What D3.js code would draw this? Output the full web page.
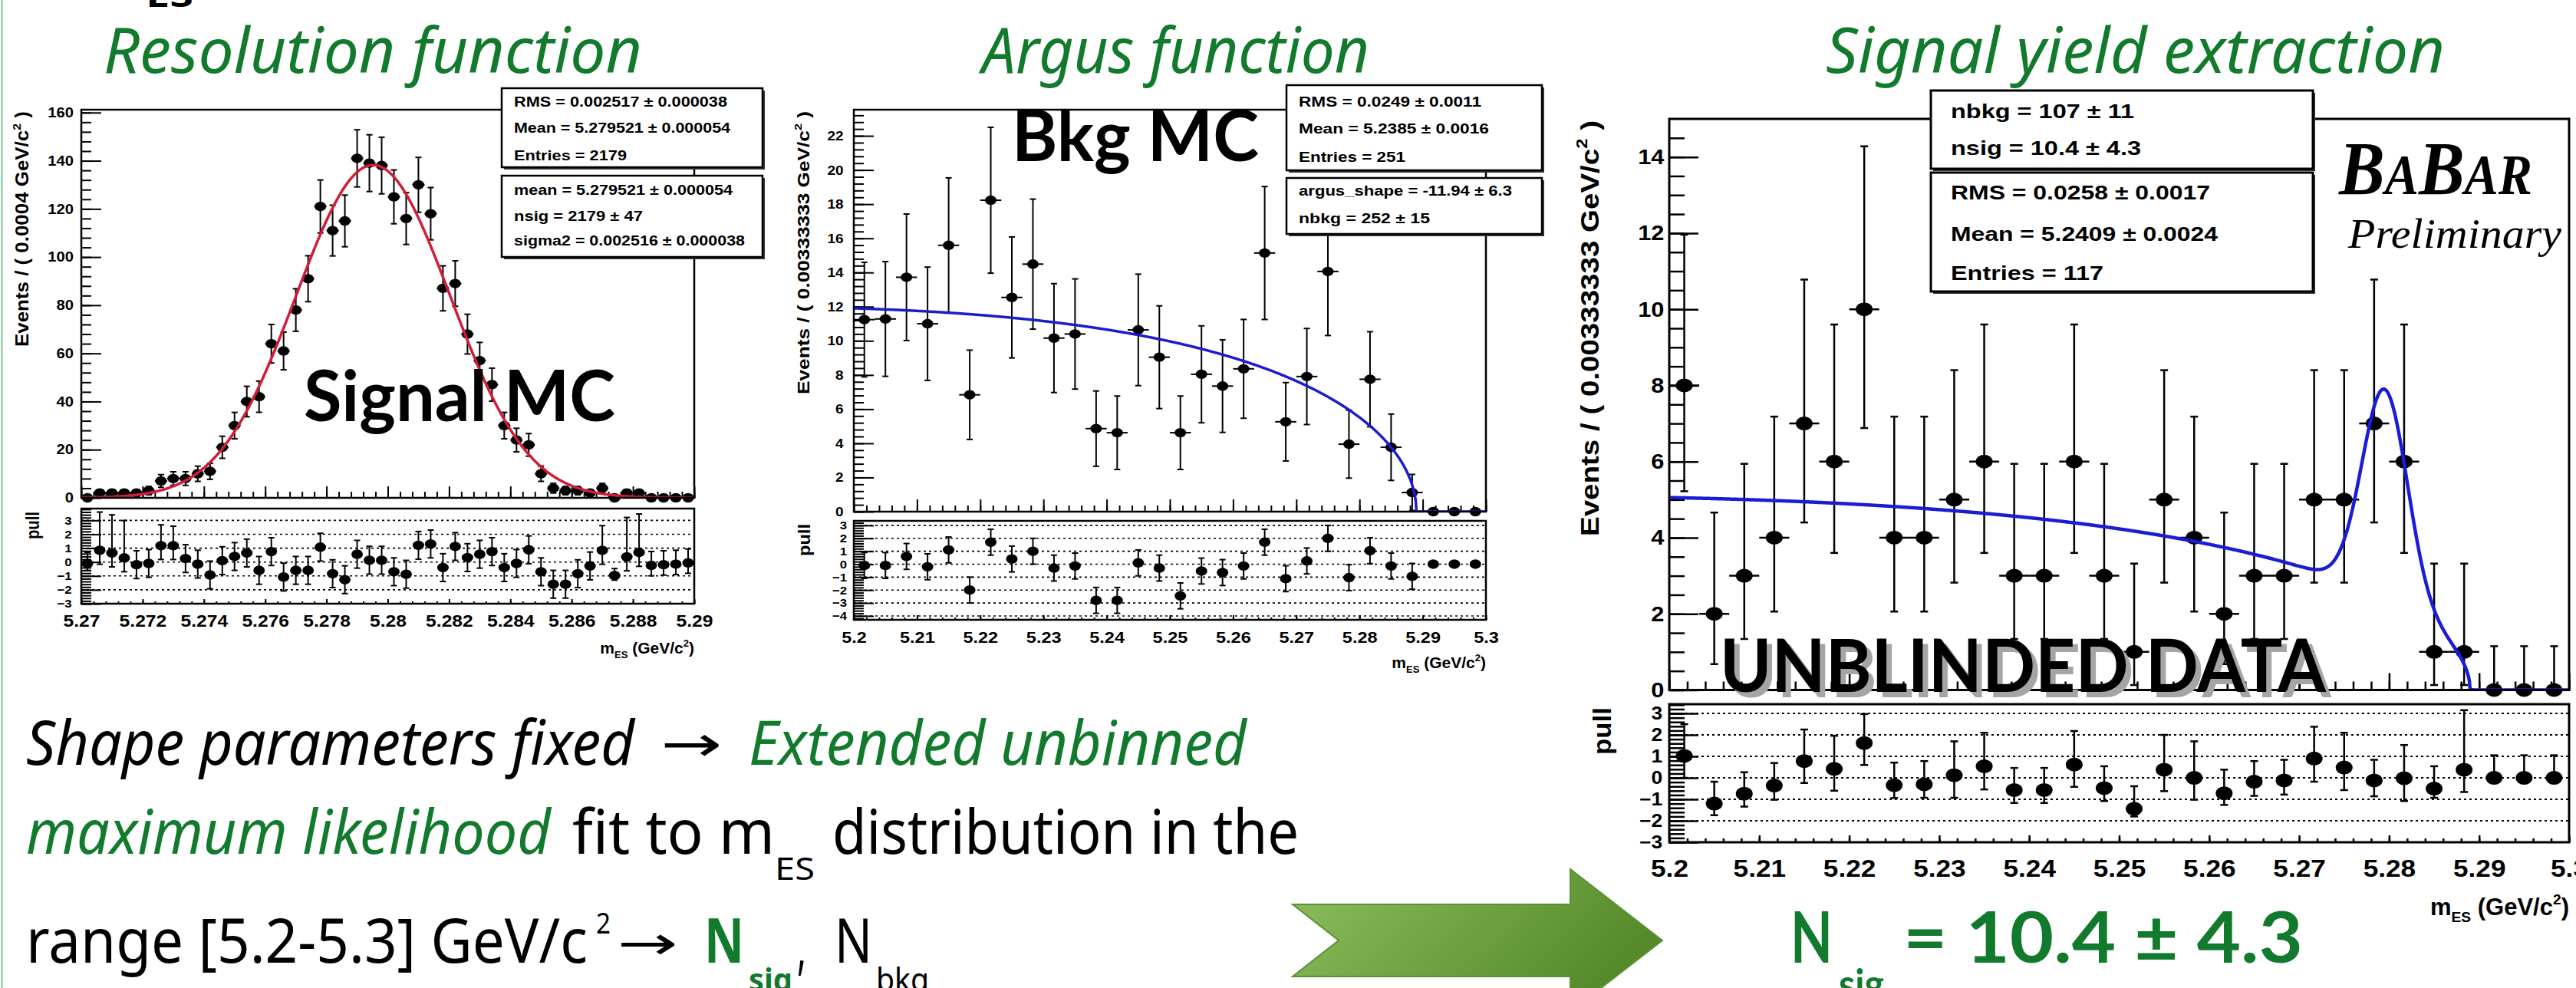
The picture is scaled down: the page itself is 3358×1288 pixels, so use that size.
<!DOCTYPE html>
<html>
<head>
<meta charset="utf-8">
<script src="https://cdn.jsdelivr.net/npm/d3@7"></script>
<style>
  html, body { margin: 0; padding: 0; background: #fff; overflow: hidden; }
</style>
</head>
<body>
<svg id="slide" width="3358" height="1288"></svg>
<script>
// ---------------------------------------------------------------
// Data: m_ES histograms, fit pulls and fit results
// ---------------------------------------------------------------

// Signal MC, 50 bins of 0.0004 GeV/c^2 in [5.27, 5.29]
const sigMcRange = [5.27, 5.29];
const sigMcCounts = [0, 2, 2, 2, 2, 3, 7, 8, 8, 10, 11, 21, 30, 40, 42, 64, 61, 78, 91, 121,
  111, 115, 141, 139, 138, 125, 116, 130, 118, 87, 89, 68, 57, 47, 30, 24, 22, 10, 4, 3,
  3, 2, 4, 0, 2, 2, 0, 0, 0, 0];
const sigMcPull = [-0.1, 0.84, 0.65, 0.3, -0.19, -0.1, 1.18, 1.18, 0.25, -0.15, -0.93, 0.1, 0.4, 0.65,
  -0.6, 0.75, -1.08, -0.6, -0.6, 1.07, -0.84, -1.27, 0.56, 0.13, 0.13, -0.7, -0.88, 1.2, 1.3, -0.4,
  1.12, 0.32, 0.56, 0.75, -0.4, -0.1, 0.88, -0.7, -1.6, -1.6, -0.84, -0.28, 0.84, -0.97, 0.37,
  0.69, -0.24, -0.19, -0.15, -0.06];
const sigMcPullUp = [0.8, 2.76, 2.75, 2.69, 1, 1, 1.5, 1.4, 1, 1, 1, 1, 1, 1, 1, 1, 1, 1, 1, 1,
  1, 1, 1, 1, 1, 1, 1, 1, 1, 1, 1, 1, 1, 1, 1, 1, 1, 1, 1, 1, 1, 1, 1.78, 0.5, 2.84, 2.77, 1, 1, 1, 1];
const sigMcPullDn = [0.5, 1, 1, 1, 1, 1, 1, 1, 1, 1, 1, 1, 1, 1, 1, 1, 1, 1, 1, 1,
  1, 1, 1, 1, 1, 1, 1, 1, 1, 1, 1, 1, 1, 1, 1, 1, 1, 1, 1, 1, 1, 1, 1, 0.33, 1, 1, 0.75, 0.75, 0.75, 0.75];

// Background MC (weighted), 30 bins in [5.2, 5.3]
const bkgMcRange = [5.2, 5.3];
const bkgMcValues = [11.24, 11.28, 13.72, 11.0, 15.59, 6.84, 18.23, 12.54, 14.49, 10.16, 10.40, 4.86,
  4.62, 10.64, 9.04, 4.62, 8.04, 7.35, 8.36, 15.14, 5.26, 7.91, 14.06, 3.95, 7.75, 3.77, 1.12, 0, 0, 0];
const bkgMcPull = [-0.1, -0.1, 0.6, -0.2, 1.1, -2.0, 1.7, 0.4, 1.0, -0.3, -0.14, -2.8, -2.8, 0.1, -0.3,
  -2.45, -0.53, -0.65, -0.14, 1.7, -1.12, 0.25, 2.0, -1.04, 1.04, -0.14, -0.94, 0, 0, 0];
const bkgMcPullUp = [1, 1, 1, 1, 1, 1, 1, 1, 1, 1, 1, 1, 1, 1, 1, 1, 1, 1, 1, 1, 1, 1, 1, 1, 1, 1, 1, 0, 0, 0];
const bkgMcPullDn = bkgMcPullUp;

// Unblinded data, 30 bins in [5.2, 5.3]
const dataRange = [5.2, 5.3];
const dataCounts = [8, 2, 3, 4, 7, 6, 10, 4, 4, 5, 6, 3, 3, 6, 3, 1, 5, 4, 2, 3, 3, 5, 5, 7, 6, 1, 1, 0, 0, 0];
const dataPull = [1.02, -1.2, -0.74, -0.36, 0.78, 0.42, 1.62, -0.34, -0.3, 0.12, 0.54, -0.57, -0.57, 0.62,
  -0.48, -1.44, 0.38, 0.0, -0.72, -0.18, -0.12, 0.9, 0.48, -0.12, -0.02, -0.5, 0.38, 0, 0, 0];
const dataPullUp = [1.48, 1.02, 1.0, 1.05, 1.47, 1.54, 1.35, 1.05, 1.08, 1.58, 1.56, 1.03, 1.03, 1.56, 1.02,
  1.05, 1.62, 1.7, 1.1, 0.96, 0.96, 1.48, 1.62, 0.96, 1.55, 1.04, 2.77, 1.05, 1.05, 1.05];
const dataPullDn = [1.02, 0.54, 0.6, 0.66, 1.02, 1.02, 1.02, 0.6, 0.63, 1.05, 1.08, 0.6, 0.6, 1.04, 0.6,
  0.36, 1.0, 1.02, 0.54, 0.66, 0.66, 1.08, 1.05, 0.74, 1.06, 0.43, 1.04, 0, 0, 0];

// 68% Poisson intervals drawn on the data points, by bin content
const poissonBand = {
  0: [0, 1.15], 1: [0.13, 3.32], 2: [0.68, 4.66], 3: [1.34, 5.94], 4: [2.06, 7.18],
  5: [2.82, 8.40], 6: [3.60, 9.60], 7: [4.40, 10.78], 8: [5.22, 11.96], 10: [6.88, 14.28]
};

// Fit results
const sigMean = 5.279521;
const sigSigma = 0.002516;
const nsigMc = 2179;
const argusShape = -11.94;
const argusEndpoint = 5.289;
const nbkgMc = 252;
const nbkgData = 107;
const nsigData = 10.4;

// Statistics boxes
const statSigA = ["RMS = 0.002517 \u00b1 0.000038", "Mean = 5.279521 \u00b1 0.000054", "Entries = 2179"];
const statSigB = ["mean = 5.279521 \u00b1 0.000054", "nsig = 2179 \u00b1 47", "sigma2 = 0.002516 \u00b1 0.000038"];
const statBkgA = ["RMS = 0.0249 \u00b1 0.0011", "Mean = 5.2385 \u00b1 0.0016", "Entries = 251"];
const statBkgB = ["argus_shape = -11.94 \u00b1 6.3", "nbkg = 252 \u00b1 15"];
const statDataA = ["nbkg = 107 \u00b1 11", "nsig = 10.4 \u00b1 4.3"];
const statDataB = ["RMS = 0.0258 \u00b1 0.0017", "Mean = 5.2409 \u00b1 0.0024", "Entries = 117"];

// ---------------------------------------------------------------
// Fit model shapes
// ---------------------------------------------------------------
function argusPdf(m) {
  if (m >= argusEndpoint) return 0;
  const r = 1 - (m / argusEndpoint) * (m / argusEndpoint);
  return m * Math.sqrt(r) * Math.exp(argusShape * r);
}
function gaussPdf(m) {
  const z = (m - sigMean) / sigSigma;
  return Math.exp(-0.5 * z * z) / (Math.sqrt(2 * Math.PI) * sigSigma);
}
function integrate(f, a, b) {
  const n = 5000, h = (b - a) / n;
  let s = 0;
  for (let i = 0; i < n; i++) s += f(a + (i + 0.5) * h);
  return s * h;
}
const argusNorm = integrate(argusPdf, 5.2, 5.3);
const gaussNormWide = integrate(gaussPdf, 5.2, 5.3);
const gaussNormNarrow = integrate(gaussPdf, 5.27, 5.29);

// ---------------------------------------------------------------
// Drawing helpers
// ---------------------------------------------------------------
const svg = d3.select("#slide");
svg.append("rect").attr("width", 3358).attr("height", 1288).attr("fill", "#fff");
const defs = svg.append("defs");

const GREEN = "#127a2c";
const ROOTFONT = "'Liberation Sans', Arial, sans-serif";

function label(g, s, o) {
  const t = g.append("text")
    .attr("x", o.x).attr("y", o.y)
    .attr("font-family", o.family || ROOTFONT)
    .attr("font-size", o.size)
    .attr("font-weight", o.weight || "normal")
    .attr("font-style", o.style || "normal")
    .attr("fill", o.fill || "#000")
    .attr("text-anchor", o.anchor || "start")
    .text(s);
  if (o.w) t.attr("textLength", o.w).attr("lengthAdjust", "spacingAndGlyphs");
  if (o.baseline) t.attr("dominant-baseline", o.baseline);
  return t;
}

function binCenters(range, n) {
  const w = (range[1] - range[0]) / n;
  return d3.range(n).map(i => range[0] + (i + 0.5) * w);
}

function stepValues(lo, hi, step) {
  const n = Math.round((hi - lo) / step);
  return d3.range(n + 1).map(i => +(lo + i * step).toFixed(6));
}

function drawRooPlot(cfg) {
  const g = svg.append("g");
  const x = d3.scaleLinear().domain(cfg.xDomain).range([cfg.left, cfg.right]);
  const y = d3.scaleLinear().domain(cfg.yDomain).range([cfg.bottom, cfg.top]);
  const yp = d3.scaleLinear().domain(cfg.pullDomain).range([cfg.pullBottom, cfg.pullTop]);
  const binW = (cfg.xDomain[1] - cfg.xDomain[0]) / cfg.values.length;
  const centers = binCenters(cfg.xDomain, cfg.values.length);

  const clip = defs.append("clipPath").attr("id", cfg.id + "-clip");
  clip.append("rect").attr("x", cfg.left).attr("y", cfg.top)
    .attr("width", cfg.right - cfg.left).attr("height", cfg.bottom - cfg.top);

  // pull reference lines
  g.append("g").selectAll("line").data(cfg.pullGrid).join("line")
    .attr("x1", cfg.left).attr("x2", cfg.right)
    .attr("y1", d => yp(d)).attr("y2", d => yp(d))
    .attr("stroke", "#000").attr("stroke-width", cfg.gridWidth)
    .attr("stroke-dasharray", cfg.gridDash);

  // axes (ROOT style: ticks pointing inside the frame)
  const styleAxis = (sel, size, sx) => {
    sel.select(".domain").remove();
    sel.attr("font-family", null).attr("font-size", null);
    sel.selectAll("line").attr("stroke", "#000").attr("stroke-width", cfg.tickWidth);
    sel.selectAll("text")
      .attr("font-family", ROOTFONT).attr("font-size", size)
      .attr("font-weight", "bold").attr("fill", "#000")
      .attr("transform", `scale(${sx},1)`);
  };
  const noLabel = () => "";
  const fmt = d => d3.format("~g")(+d.toFixed(4));

  // main y axis
  g.append("g").attr("transform", `translate(${cfg.left},0)`)
    .call(d3.axisLeft(y).tickValues(cfg.yMinor).tickSize(-cfg.yMinorLen).tickSizeOuter(0).tickFormat(noLabel))
    .call(s => styleAxis(s, cfg.yLabelSize, 1));
  g.append("g").attr("transform", `translate(${cfg.left},0)`)
    .call(d3.axisLeft(y).tickValues(cfg.yMajor).tickSize(-cfg.yMajorLen).tickSizeOuter(0)
      .tickPadding(cfg.yPad).tickFormat(fmt))
    .call(s => styleAxis(s, cfg.yLabelSize, cfg.textStretch));
  // main x axis (ticks only)
  g.append("g").attr("transform", `translate(0,${cfg.bottom})`)
    .call(d3.axisBottom(x).tickValues(cfg.xMinor).tickSize(-cfg.xMinorLen).tickSizeOuter(0).tickFormat(noLabel))
    .call(s => styleAxis(s, 10, 1));
  g.append("g").attr("transform", `translate(0,${cfg.bottom})`)
    .call(d3.axisBottom(x).tickValues(cfg.xMajor).tickSize(-cfg.xMajorLen).tickSizeOuter(0).tickFormat(noLabel))
    .call(s => styleAxis(s, 10, 1));
  // pull y axis
  g.append("g").attr("transform", `translate(${cfg.left},0)`)
    .call(d3.axisLeft(yp).tickValues(cfg.pullMinor).tickSize(-cfg.yMinorLen).tickSizeOuter(0).tickFormat(noLabel))
    .call(s => styleAxis(s, 10, 1));
  g.append("g").attr("transform", `translate(${cfg.left},0)`)
    .call(d3.axisLeft(yp).tickValues(cfg.pullMajor).tickSize(-cfg.yMajorLen).tickSizeOuter(0)
      .tickPadding(cfg.pullPad).tickFormat(d3.format("d")))
    .call(s => styleAxis(s, cfg.pullLabelSize, cfg.textStretch));
  // pull x axis with labels
  g.append("g").attr("transform", `translate(0,${cfg.pullBottom})`)
    .call(d3.axisBottom(x).tickValues(cfg.xMinor).tickSize(-cfg.pullXMinorLen).tickSizeOuter(0).tickFormat(noLabel))
    .call(s => styleAxis(s, 10, 1));
  g.append("g").attr("transform", `translate(0,${cfg.pullBottom})`)
    .call(d3.axisBottom(x).tickValues(cfg.xMajor).tickSize(-cfg.pullXMajorLen).tickSizeOuter(0)
      .tickPadding(cfg.xPad).tickFormat(fmt))
    .call(s => styleAxis(s, cfg.xLabelSize, cfg.textStretch));

  // data points with error bars
  const pts = cfg.values.map((v, i) => {
    const e = cfg.errors(v);
    return { m: centers[i], v, lo: e[0], hi: e[1] };
  });
  const dataG = g.append("g").attr("stroke", "#000").attr("stroke-width", cfg.barWidth);
  dataG.selectAll("line.v").data(pts.filter(d => d.hi > d.lo)).join("line").attr("class", "v")
    .attr("x1", d => x(d.m)).attr("x2", d => x(d.m))
    .attr("y1", d => y(d.lo)).attr("y2", d => y(d.hi));
  dataG.selectAll("line.h").data(pts).join("line").attr("class", "h")
    .attr("x1", d => x(d.m - binW / 2)).attr("x2", d => x(d.m + binW / 2))
    .attr("y1", d => y(d.v)).attr("y2", d => y(d.v));
  const caps = pts.filter(d => d.hi > d.lo).flatMap(d => [
    { m: d.m, v: d.hi }, ...(d.lo < d.v ? [{ m: d.m, v: d.lo }] : [])
  ]);
  dataG.selectAll("line.c").data(caps).join("line").attr("class", "c")
    .attr("x1", d => x(d.m) - cfg.capHalf).attr("x2", d => x(d.m) + cfg.capHalf)
    .attr("y1", d => y(d.v)).attr("y2", d => y(d.v));
  dataG.selectAll("ellipse").data(pts).join("ellipse")
    .attr("cx", d => x(d.m)).attr("cy", d => y(d.v))
    .attr("rx", cfg.markerRx).attr("ry", cfg.markerRy)
    .attr("fill", "#000").attr("stroke", "none");

  // fitted model curve
  const samples = d3.range(0, 1201).map(i => cfg.xDomain[0] + (cfg.xDomain[1] - cfg.xDomain[0]) * i / 1200)
    .concat(cfg.extraSamples || []).sort((a, b) => a - b);
  g.append("path")
    .attr("clip-path", `url(#${cfg.id}-clip)`)
    .attr("d", d3.line().x(m => x(m)).y(m => y(cfg.model(m)))(samples))
    .attr("fill", "none").attr("stroke", cfg.curveColor)
    .attr("stroke-width", cfg.curveWidth).attr("stroke-linejoin", "round");

  // pull points
  const pulls = cfg.pull.map((p, i) => ({ m: centers[i], p, up: cfg.pullUp[i], dn: cfg.pullDn[i] }));
  const pullG = g.append("g").attr("stroke", "#000").attr("stroke-width", cfg.barWidth);
  pullG.selectAll("line.v").data(pulls.filter(d => d.up + d.dn > 0)).join("line").attr("class", "v")
    .attr("x1", d => x(d.m)).attr("x2", d => x(d.m))
    .attr("y1", d => yp(d.p - d.dn)).attr("y2", d => yp(d.p + d.up));
  const pcaps = pulls.flatMap(d => [
    ...(d.up > 0 ? [{ m: d.m, v: d.p + d.up }] : []),
    ...(d.dn > 0 ? [{ m: d.m, v: d.p - d.dn }] : [])
  ]);
  pullG.selectAll("line.c").data(pcaps).join("line").attr("class", "c")
    .attr("x1", d => x(d.m) - cfg.capHalf).attr("x2", d => x(d.m) + cfg.capHalf)
    .attr("y1", d => yp(d.v)).attr("y2", d => yp(d.v));
  pullG.selectAll("ellipse").data(pulls).join("ellipse")
    .attr("cx", d => x(d.m)).attr("cy", d => yp(d.p))
    .attr("rx", cfg.markerRx).attr("ry", cfg.markerRy)
    .attr("fill", "#000").attr("stroke", "none");

  // frames
  g.append("rect").attr("x", cfg.left).attr("y", cfg.top)
    .attr("width", cfg.right - cfg.left).attr("height", cfg.bottom - cfg.top)
    .attr("fill", "none").attr("stroke", "#000").attr("stroke-width", cfg.frameWidth);
  g.append("rect").attr("x", cfg.left).attr("y", cfg.pullTop)
    .attr("width", cfg.right - cfg.left).attr("height", cfg.pullBottom - cfg.pullTop)
    .attr("fill", "none").attr("stroke", "#000").attr("stroke-width", cfg.frameWidth);

  // axis titles
  const yt = g.append("text")
    .attr("transform", `translate(${cfg.yTitleX},${cfg.top + 2}) rotate(-90)`)
    .attr("text-anchor", "end").attr("font-family", ROOTFONT)
    .attr("font-size", cfg.yTitleSize).attr("font-weight", "bold")
    .attr("textLength", cfg.yTitleLen).attr("lengthAdjust", "spacingAndGlyphs");
  yt.append("tspan").text(cfg.yTitle);
  yt.append("tspan").attr("dy", -cfg.yTitleSize * 0.45).attr("font-size", cfg.yTitleSize * 0.62).text("2");
  yt.append("tspan").attr("dy", cfg.yTitleSize * 0.45).text(" )");

  g.append("text")
    .attr("transform", `translate(${cfg.pullTitleX},${cfg.pullTop + 4}) rotate(-90)`)
    .attr("text-anchor", "end").attr("font-family", ROOTFONT)
    .attr("font-size", cfg.yTitleSize).attr("font-weight", "bold")
    .attr("textLength", cfg.pullTitleLen).attr("lengthAdjust", "spacingAndGlyphs")
    .text("pull");

  const xt = g.append("text")
    .attr("x", cfg.right).attr("y", cfg.xTitleY)
    .attr("text-anchor", "end").attr("font-family", ROOTFONT)
    .attr("font-size", cfg.titleSize).attr("font-weight", "bold");
  xt.append("tspan").text("m");
  xt.append("tspan").attr("dy", cfg.titleSize * 0.3).attr("font-size", cfg.titleSize * 0.62).text("ES");
  xt.append("tspan").attr("dy", -cfg.titleSize * 0.3).text(" (GeV/c");
  xt.append("tspan").attr("dy", -cfg.titleSize * 0.45).attr("font-size", cfg.titleSize * 0.62).text("2");
  xt.append("tspan").attr("dy", cfg.titleSize * 0.45).text(")");

  return g;
}

function statBox(lines, box) {
  const g = svg.append("g");
  g.append("rect").attr("x", box.x + 3).attr("y", box.y + 3).attr("width", box.w).attr("height", box.h)
    .attr("fill", "#333");
  g.append("rect").attr("x", box.x).attr("y", box.y).attr("width", box.w).attr("height", box.h)
    .attr("fill", "#fff").attr("stroke", "#000").attr("stroke-width", box.stroke);
  lines.forEach((s, i) => {
    label(g, s, { x: box.tx, y: box.ty[i], size: box.size, weight: "bold", w: box.tw[i], baseline: "middle" });
  });
}

// ---------------------------------------------------------------
// Slide background elements
// ---------------------------------------------------------------
svg.append("rect").attr("x", 1).attr("y", 0).attr("width", 3).attr("height", 1288).attr("fill", "#a8d9b8");
label(svg, "ES", { x: 190, y: 9, size: 40, weight: "bold", family: "'Noto Sans', sans-serif", w: 62 });

// Section headings
const headFont = "'Noto Sans', 'DejaVu Sans', sans-serif";
label(svg, "Resolution function", { x: 135, y: 95, size: 82, style: "italic", fill: GREEN, family: headFont, w: 702 });
label(svg, "Argus function", { x: 1280, y: 95, size: 82, style: "italic", fill: GREEN, family: headFont, w: 505 });
label(svg, "Signal yield extraction", { x: 2380, y: 95, size: 82, style: "italic", fill: GREEN, family: headFont, w: 807 });

// ---------------------------------------------------------------
// Panel 1: signal MC resolution fit
// ---------------------------------------------------------------
const sigBinW = (sigMcRange[1] - sigMcRange[0]) / sigMcCounts.length;
drawRooPlot({
  id: "sigmc",
  left: 106, right: 905, top: 143, bottom: 649, pullTop: 663, pullBottom: 787,
  xDomain: sigMcRange, yDomain: [0, 161.2], pullDomain: [-3, 3.85],
  values: sigMcCounts,
  errors: v => [v - Math.sqrt(v), v + Math.sqrt(v)],
  pull: sigMcPull, pullUp: sigMcPullUp, pullDn: sigMcPullDn,
  model: m => nsigMc * sigBinW * gaussPdf(m) / gaussNormNarrow,
  curveColor: "#cf1d3a", curveWidth: 3.5,
  xMajor: stepValues(5.27, 5.29, 0.002), xMinor: stepValues(5.27, 5.29, 0.0004),
  yMajor: stepValues(0, 160, 20), yMinor: stepValues(0, 160, 4),
  pullMajor: stepValues(-3, 3, 1), pullMinor: stepValues(-3, 3.8, 0.2), pullGrid: stepValues(-2, 3, 1),
  yMajorLen: 26, yMinorLen: 13, xMajorLen: 15, xMinorLen: 8, pullXMajorLen: 6, pullXMinorLen: 3,
  yPad: 9, pullPad: 11, xPad: 14,
  yLabelSize: 18, pullLabelSize: 15, xLabelSize: 22, titleSize: 21, textStretch: 1.12,
  yTitle: "Events / ( 0.0004 GeV/c", yTitleX: 37, yTitleSize: 23, yTitleLen: 307,
  pullTitleX: 51, pullTitleLen: 36, xTitleY: 852,
  markerRx: 7.5, markerRy: 6.2, barWidth: 2, capHalf: 4, tickWidth: 2, frameWidth: 2.5,
  gridWidth: 1.6, gridDash: "3 4"
});

// ---------------------------------------------------------------
// Panel 2: background MC Argus fit
// ---------------------------------------------------------------
const bkgBinW = (bkgMcRange[1] - bkgMcRange[0]) / bkgMcValues.length;
drawRooPlot({
  id: "bkgmc",
  left: 1113, right: 1937, top: 143, bottom: 667, pullTop: 679, pullBottom: 808,
  xDomain: bkgMcRange, yDomain: [0, 23.53], pullDomain: [-4.3, 3.35],
  values: bkgMcValues,
  errors: v => [v - Math.sqrt(v), v + Math.sqrt(v)],
  pull: bkgMcPull, pullUp: bkgMcPullUp, pullDn: bkgMcPullDn,
  model: m => nbkgMc * bkgBinW * argusPdf(m) / argusNorm,
  extraSamples: [argusEndpoint - 1e-7, argusEndpoint],
  curveColor: "#1c1ccf", curveWidth: 3.5,
  xMajor: stepValues(5.2, 5.3, 0.01), xMinor: stepValues(5.2, 5.3, 0.002),
  yMajor: stepValues(0, 22, 2), yMinor: stepValues(0, 23.2, 0.4),
  pullMajor: stepValues(-4, 3, 1), pullMinor: stepValues(-4.2, 3.2, 0.2), pullGrid: stepValues(-4, 3, 1),
  yMajorLen: 26, yMinorLen: 13, xMajorLen: 16, xMinorLen: 8, pullXMajorLen: 6, pullXMinorLen: 3,
  yPad: 12, pullPad: 8, xPad: 15,
  yLabelSize: 17, pullLabelSize: 15, xLabelSize: 21, titleSize: 21, textStretch: 1.12,
  yTitle: "Events / ( 0.00333333 GeV/c", yTitleX: 1055, yTitleSize: 22, yTitleLen: 369,
  pullTitleX: 1056, pullTitleLen: 42, xTitleY: 871,
  markerRx: 7.5, markerRy: 6.2, barWidth: 2, capHalf: 4, tickWidth: 2, frameWidth: 2.5,
  gridWidth: 1.6, gridDash: "3 4"
});

// ---------------------------------------------------------------
// Panel 3: extended ML fit to unblinded data
// ---------------------------------------------------------------
const dataBinW = (dataRange[1] - dataRange[0]) / dataCounts.length;
drawRooPlot({
  id: "data",
  left: 2176, right: 3349, top: 155, bottom: 899.5, pullTop: 918, pullBottom: 1098,
  xDomain: dataRange, yDomain: [0, 15], pullDomain: [-3, 3.43],
  values: dataCounts,
  errors: v => poissonBand[v],
  pull: dataPull, pullUp: dataPullUp, pullDn: dataPullDn,
  model: m => nbkgData * dataBinW * argusPdf(m) / argusNorm + nsigData * dataBinW * gaussPdf(m) / gaussNormWide,
  extraSamples: [argusEndpoint - 1e-7, argusEndpoint],
  curveColor: "#1c1cd6", curveWidth: 4.5,
  xMajor: stepValues(5.2, 5.3, 0.01), xMinor: stepValues(5.2, 5.3, 0.002),
  yMajor: stepValues(0, 14, 2), yMinor: stepValues(0, 14.5, 0.5),
  pullMajor: stepValues(-3, 3, 1), pullMinor: stepValues(-3, 3.4, 0.2), pullGrid: stepValues(-2, 3, 1),
  yMajorLen: 38, yMinorLen: 20, xMajorLen: 22, xMinorLen: 11, pullXMajorLen: 9, pullXMinorLen: 5,
  yPad: 6, pullPad: 8, xPad: 22,
  yLabelSize: 28, pullLabelSize: 24, xLabelSize: 32, titleSize: 31, textStretch: 1.1,
  yTitle: "Events / ( 0.00333333 GeV/c", yTitleX: 2084, yTitleSize: 34, yTitleLen: 542,
  pullTitleX: 2100, pullTitleLen: 62, xTitleY: 1193,
  markerRx: 11, markerRy: 9, barWidth: 2.5, capHalf: 5, tickWidth: 2.5, frameWidth: 3,
  gridWidth: 2, gridDash: "3 4"
});

// ---------------------------------------------------------------
// Statistics boxes
// ---------------------------------------------------------------
statBox(statSigA, { x: 654, y: 115, w: 340, h: 103, stroke: 2.5, tx: 670, ty: [134, 168, 204], size: 18, tw: [278, 282, 147] });
statBox(statSigB, { x: 654, y: 229, w: 340, h: 106, stroke: 2.5, tx: 670, ty: [249, 283, 315], size: 18, tw: [285, 168, 301] });
statBox(statBkgA, { x: 1677, y: 111, w: 333, h: 111, stroke: 2.5, tx: 1693, ty: [134, 169, 206], size: 18, tw: [238, 248, 139] });
statBox(statBkgB, { x: 1677, y: 232, w: 333, h: 73, stroke: 2.5, tx: 1693, ty: [250, 286], size: 18, tw: [278, 171] });
statBox(statDataA, { x: 2517, y: 118, w: 498, h: 102, stroke: 3, tx: 2543, ty: [147, 195], size: 25, tw: [239, 248] });
statBox(statDataB, { x: 2517, y: 225, w: 498, h: 155, stroke: 3, tx: 2543, ty: [253, 307, 358], size: 25, tw: [338, 348, 199] });

// ---------------------------------------------------------------
// Annotations on the plots
// ---------------------------------------------------------------
const calloutFont = "Lato, 'Open Sans', sans-serif";
label(svg, "Signal MC", { x: 396, y: 549, size: 92, weight: "bold", family: calloutFont, w: 406 });
label(svg, "Bkg MC", { x: 1319, y: 210, size: 92, weight: "bold", family: calloutFont, w: 322 });
label(svg, "UNBLINDED DATA", { x: 2249, y: 909, size: 96, weight: "bold", family: calloutFont, w: 790, fill: "#a5a5a5" });
label(svg, "UNBLINDED DATA", { x: 2242, y: 902, size: 96, weight: "bold", family: calloutFont, w: 790 });

const babar = svg.append("text").attr("x", 3049).attr("y", 253)
  .attr("font-family", "'Liberation Serif', 'Times New Roman', serif")
  .attr("font-style", "italic").attr("font-weight", "bold")
  .attr("textLength", 252).attr("lengthAdjust", "spacingAndGlyphs");
babar.append("tspan").attr("font-size", 100).text("B");
babar.append("tspan").attr("font-size", 74).text("A");
babar.append("tspan").attr("font-size", 100).text("B");
babar.append("tspan").attr("font-size", 74).text("AR");
label(svg, "Preliminary", { x: 3061, y: 323, size: 54, style: "italic", family: "'Liberation Serif', serif", w: 278 });

// ---------------------------------------------------------------
// Explanatory text and result
// ---------------------------------------------------------------
const bodyFont = "'Noto Sans', 'DejaVu Sans', sans-serif";
const arrowFont = "'DejaVu Sans', sans-serif";
label(svg, "Shape parameters fixed", { x: 34, y: 997, size: 80, style: "italic", family: bodyFont, w: 793 });
label(svg, "\u2192", { x: 861, y: 992, size: 64, family: arrowFont, w: 80 });
label(svg, "Extended unbinned", { x: 976, y: 997, size: 80, style: "italic", family: bodyFont, w: 649, fill: GREEN });

label(svg, "maximum likelihood", { x: 34, y: 1113, size: 80, style: "italic", family: bodyFont, w: 684, fill: GREEN });
label(svg, "fit to m", { x: 746, y: 1113, size: 80, family: bodyFont, w: 264 });
label(svg, "ES", { x: 1010, y: 1147, size: 40, family: bodyFont, w: 52 });
label(svg, "distribution in the", { x: 1085, y: 1113, size: 80, family: bodyFont, w: 608 });

label(svg, "range [5.2-5.3] GeV/c", { x: 34, y: 1255, size: 80, family: bodyFont, w: 732 });
label(svg, "2", { x: 777, y: 1217, size: 38, family: bodyFont, w: 19 });
label(svg, "\u2192", { x: 805, y: 1250, size: 60, family: arrowFont, w: 79 });
label(svg, "N", { x: 918, y: 1255, size: 80, weight: "bold", family: bodyFont, w: 52, fill: GREEN });
label(svg, "sig", { x: 976, y: 1292, size: 42, weight: "bold", family: bodyFont, w: 57, fill: GREEN });
label(svg, ",", { x: 1039, y: 1262, size: 80, family: bodyFont, w: 12 });
label(svg, "N", { x: 1088, y: 1255, size: 80, family: bodyFont, w: 49 });
label(svg, "bkg", { x: 1142, y: 1292, size: 42, family: bodyFont, w: 69 });

// big arrow towards the result
const grad = defs.append("linearGradient").attr("id", "arrowGrad")
  .attr("x1", "0%").attr("y1", "0%").attr("x2", "100%").attr("y2", "40%");
grad.append("stop").attr("offset", "0%").attr("stop-color", "#8fbf5e");
grad.append("stop").attr("offset", "100%").attr("stop-color", "#55892a");
svg.append("path")
  .attr("d", "M1685,1179 L2047,1179 L2047,1133 L2167,1226 L2047,1319 L2047,1273 L1685,1273 L1745,1226 Z")
  .attr("fill", "url(#arrowGrad)").attr("stroke", "#5b9232").attr("stroke-width", 2);

label(svg, "N", { x: 2334, y: 1255, size: 92, weight: "bold", family: calloutFont, w: 55, fill: GREEN });
label(svg, "sig", { x: 2397, y: 1302, size: 54, weight: "bold", family: calloutFont, w: 59, fill: GREEN });
label(svg, "= 10.4 \u00b1 4.3", { x: 2481, y: 1255, size: 92, weight: "bold", family: calloutFont, w: 521, fill: GREEN });
</script>
</body>
</html>
